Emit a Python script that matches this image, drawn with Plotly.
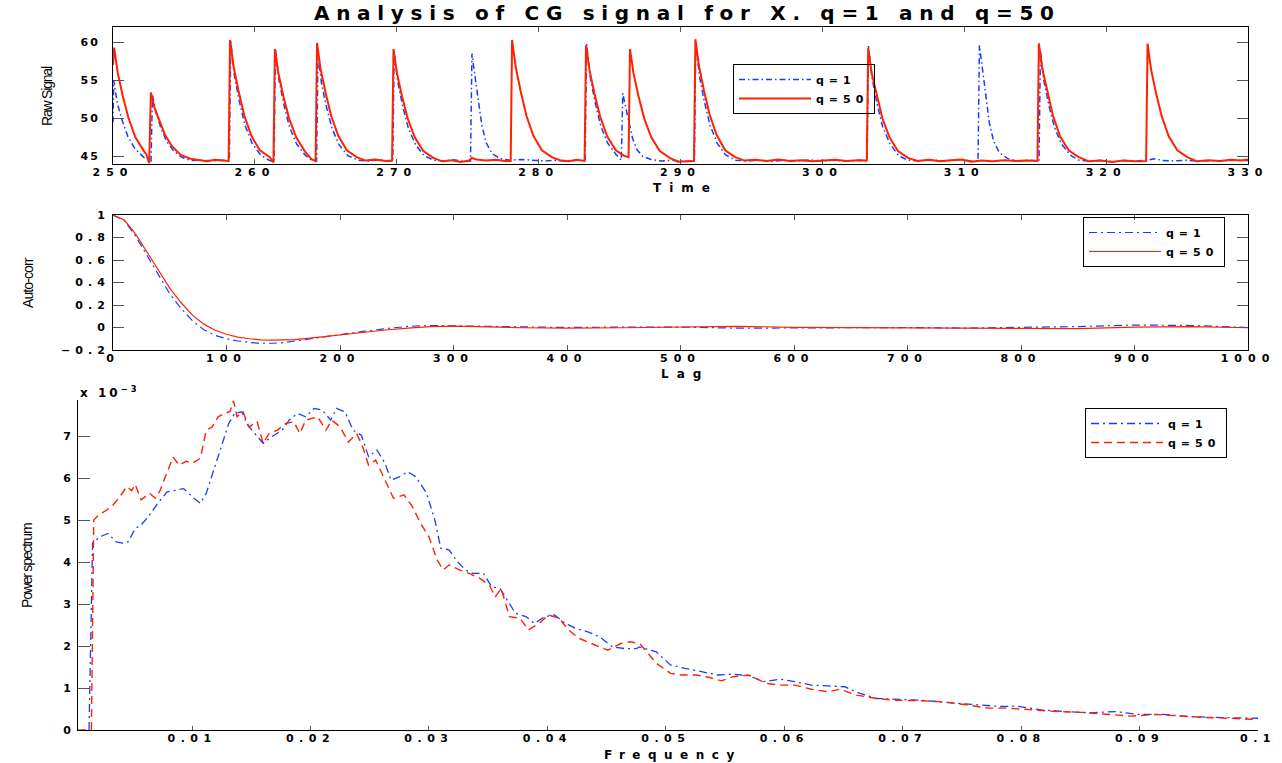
import plotly.graph_objects as go

W, H = 1282, 763
BLUE = "#1a3cff"
RED = "#ff2200"

# ---------------- Panel 1: raw signal (time, value) ----------------
raw_t_q1 = [250.0, 250.05, 250.3, 250.65, 251.05, 251.55, 252.15, 252.68, 252.78, 253.03, 253.38, 253.78,
            254.28, 254.88, 255.5, 256.3, 257.0, 257.7, 258.2, 258.3, 258.55, 258.9, 259.3, 259.8, 260.4,
            261.0, 261.35, 261.45, 261.7, 262.05, 262.45, 262.95, 263.55, 264.0, 264.35, 264.45, 264.7,
            265.05, 265.45, 265.95, 266.55, 267.3, 268.0, 268.8, 269.4, 269.72, 269.82, 270.07, 270.42,
            270.82, 271.32, 271.92, 272.6, 273.3, 274.0, 274.7, 275.2, 275.3, 275.5, 275.7, 276.0, 276.3,
            276.7, 277.3, 278.0, 278.8, 279.6, 280.4, 281.2, 282.0, 282.7, 283.28, 283.38, 283.63, 283.98,
            284.38, 284.88, 285.48, 285.83, 285.93, 286.13, 286.33, 286.63, 286.93, 287.33, 287.93, 288.6,
            289.4, 290.2, 290.98, 291.08, 291.33, 291.68, 292.08, 292.58, 293.18, 293.9, 294.6, 295.5,
            296.4, 297.3, 298.2, 299.1, 300.0, 300.9, 301.8, 302.6, 303.15, 303.25, 303.5, 303.85, 304.25,
            304.75, 305.35, 306.0, 306.8, 307.6, 308.4, 309.2, 309.9, 310.5, 310.97, 311.07, 311.27, 311.47,
            311.77, 312.07, 312.47, 313.07, 313.8, 314.5, 315.27, 315.37, 315.62, 315.97, 316.37, 316.87,
            317.47, 318.1, 318.9, 319.7, 320.5, 321.3, 322.1, 322.9, 323.4, 324.0, 324.8, 325.6, 326.5,
            327.4, 328.3, 329.2, 330.0]
raw_v_q1 = [49.5, 55.0, 52.0, 49.7, 47.6, 46.0, 44.9, 44.3, 53.1, 50.7, 48.75, 47.0,
            45.7, 44.85, 44.45, 44.5, 44.4, 44.5, 44.4, 60.1, 55.7, 52.25, 49.1, 46.75, 45.2,
            44.5, 44.3, 59.1, 55.0, 51.75, 48.8, 46.6, 45.15, 44.5, 44.4, 58.5, 54.55,
            51.45, 48.6, 46.5, 45.1, 44.5, 44.4, 44.55, 44.35, 44.4, 58.8, 54.8, 51.6,
            48.7, 46.55, 45.1, 44.5, 44.4, 44.55, 44.35, 44.4, 58.5, 55.7, 52.9, 49.05, 46.8,
            45.4, 44.7, 44.5, 44.6, 44.45, 44.4, 44.5, 44.35, 44.5, 44.4, 59.8, 55.5, 52.1,
            49.0, 46.7, 45.2, 44.5, 53.3, 51.5, 49.7, 47.3, 45.9, 45.0, 44.6, 44.4,
            44.5, 44.35, 44.4, 60.0, 55.6, 52.2, 49.1, 46.75, 45.2, 44.5, 44.4, 44.5,
            44.35, 44.5, 44.4, 44.55, 44.4, 44.5, 44.35, 44.5, 44.4, 59.5, 55.3, 51.95, 48.9,
            46.7, 45.15, 44.5, 44.4, 44.55, 44.4, 44.5, 44.6, 44.35, 44.4, 59.6, 56.6, 53.5,
            49.4, 47.0, 45.5, 44.7, 44.4, 44.5, 44.4, 58.9, 54.85, 51.65, 48.75, 46.6,
            45.15, 44.5, 44.35, 44.5, 44.3, 44.45, 44.4, 44.5, 44.7, 44.45, 44.4, 44.5, 44.35,
            44.45, 44.4, 44.5, 44.45]

raw_t_q50 = [250.0, 250.08, 250.33, 250.68, 251.08, 251.58, 252.18, 252.35, 252.55, 252.67, 252.92, 253.27,
             253.67, 254.17, 254.77, 255.47, 256.0, 256.6, 257.2, 257.8, 258.15, 258.25, 258.5, 258.85,
             259.25, 259.75, 260.35, 261.05, 261.31, 261.41, 261.66, 262.01, 262.41, 262.91, 263.51, 264.0,
             264.28, 264.38, 264.63, 264.98, 265.38, 265.88, 266.48, 267.18, 267.8, 268.5, 269.2, 269.67,
             269.77, 270.02, 270.37, 270.77, 271.27, 271.87, 272.57, 273.2, 273.9, 274.5, 275.1, 275.3,
             275.6, 276.3, 277.0, 277.6, 278.03, 278.13, 278.38, 278.73, 279.13, 279.63, 280.23, 280.93,
             281.5, 282.1, 282.7, 283.24, 283.34, 283.59, 283.94, 284.34, 284.84, 285.44, 286.0, 286.34,
             286.44, 286.69, 287.04, 287.44, 287.94, 288.54, 289.24, 289.8, 290.4, 290.95, 291.05, 291.3,
             291.65, 292.05, 292.55, 293.15, 293.85, 294.5, 295.3, 296.1, 296.9, 297.7, 298.5, 299.3,
             300.1, 300.9, 301.7, 302.5, 303.13, 303.23, 303.48, 303.83, 304.23, 304.73, 305.33, 306.03,
             306.7, 307.5, 308.3, 309.1, 309.8, 310.5, 311.2, 312.0, 312.8, 313.6, 314.4, 315.16, 315.26,
             315.51, 315.86, 316.26, 316.76, 317.36, 318.06, 318.8, 319.6, 320.4, 321.2, 322.0, 322.82,
             322.92, 323.17, 323.52, 323.92, 324.42, 325.02, 325.72, 326.4, 327.2, 328.0, 328.8, 329.5,
             330.0]
raw_v_q50 = [57.0, 59.3, 56.0, 53.0, 50.1, 47.5, 45.7, 45.3, 44.1, 53.4, 51.4, 49.6,
             47.8, 46.3, 45.2, 44.7, 44.5, 44.35, 44.55, 44.45, 44.4, 60.3, 56.8, 53.6,
             50.4, 47.7, 45.8, 44.9, 44.2, 59.1, 55.9, 52.9, 50.0, 47.5, 45.7, 44.6,
             44.4, 59.9, 56.5, 53.4, 50.3, 47.7, 45.8, 44.9, 44.45, 44.6, 44.4, 44.45,
             59.1, 55.9, 52.9, 50.0, 47.5, 45.7, 44.8, 44.35, 44.5, 44.25, 44.45, 44.8,
             44.6, 44.45, 44.55, 44.4, 44.4, 60.3, 56.8, 53.6, 50.4, 47.7, 45.8, 44.9,
             44.5, 44.35, 44.55, 44.4, 59.6, 56.3, 53.2, 50.2, 47.6, 45.8, 45.1, 44.9,
             59.1, 55.9, 52.9, 50.0, 47.5, 45.7, 44.8, 44.3, 44.35, 44.4, 60.4, 56.9,
             53.7, 50.5, 47.8, 45.8, 44.9, 44.45, 44.55, 44.4, 44.6, 44.4, 44.5, 44.35,
             44.45, 44.55, 44.4, 44.5, 44.45, 59.2, 55.9, 53.0, 50.0, 47.5, 45.7, 44.8,
             44.4, 44.55, 44.35, 44.5, 44.6, 44.3, 44.45, 44.35, 44.5, 44.4, 44.45, 44.4, 59.85,
             56.45, 53.4, 50.3, 47.6, 45.8, 44.9, 44.35, 44.45, 44.25, 44.45, 44.35, 44.4,
             59.8, 56.4, 53.3, 50.25, 47.6, 45.8, 44.9, 44.35, 44.5, 44.4, 44.55, 44.45,
             44.6]

raw_xticks = [250, 260, 270, 280, 290, 300, 310, 320, 330]
raw_yticks = [45, 50, 55, 60]

# ---------------- Panel 2: auto-correlation ----------------
lag = [0, 10, 20, 30, 40, 50, 60, 70, 80, 90, 100, 110, 120, 130, 140, 150, 160, 180, 200, 220, 240,
       260, 280, 300, 320, 340, 360, 380, 400, 450, 500, 550, 600, 650, 700, 750, 800, 850, 900, 950, 1000]
acf_q1 = [1.0, 0.95, 0.81, 0.64, 0.46, 0.30, 0.17, 0.06, -0.02, -0.07, -0.10, -0.12, -0.133, -0.14,
          -0.14, -0.135, -0.12, -0.09, -0.06, -0.035, -0.01, 0.01, 0.018, 0.015, 0.01, 0.005, 0.0,
          -0.003, 0.0, 0.004, 0.004, -0.006, -0.004, 0.004, 0.0, -0.005, 0.0, 0.008, 0.022, 0.018, 0.0]
acf_q50 = [1.0, 0.955, 0.83, 0.67, 0.50, 0.35, 0.22, 0.11, 0.03, -0.025, -0.06, -0.085, -0.10, -0.11,
           -0.113, -0.112, -0.108, -0.088, -0.065, -0.042, -0.022, -0.006, 0.007, 0.012, 0.01, 0.004,
           -0.002, -0.006, -0.006, -0.002, 0.006, 0.01, 0.002, 0.0, -0.004, -0.008, -0.004, -0.01,
           0.004, 0.008, -0.002]
lag_ticks = [0, 100, 200, 300, 400, 500, 600, 700, 800, 900, 1000]
acf_ticks = [-0.2, 0, 0.2, 0.4, 0.6, 0.8, 1]
acf_ticklabels = ["\u22120.2", "0", "0.2", "0.4", "0.6", "0.8", "1"]

# ---------------- Panel 3: power spectrum (units of 1e-3) ----------------
freq_q1 = [0.0013, 0.0016, 0.0022, 0.0029, 0.0036, 0.0041, 0.0046, 0.0052, 0.0057, 0.0064, 0.0071, 0.0079,
           0.0086, 0.0093, 0.0100, 0.0107, 0.0112, 0.0119, 0.0126, 0.0131, 0.0136, 0.0142, 0.0147, 0.0154,
           0.0160, 0.0167, 0.0176, 0.0182, 0.0189, 0.0196, 0.0203, 0.0210, 0.0217, 0.0222, 0.0229, 0.0236,
           0.0243, 0.0249, 0.0256, 0.0263, 0.0268, 0.0275, 0.0282, 0.0289, 0.0298, 0.0305, 0.0310, 0.0317,
           0.0324, 0.0331, 0.0337, 0.0346, 0.0353, 0.0360, 0.0366, 0.0373, 0.0382, 0.0389, 0.0398, 0.0406,
           0.0415, 0.0424, 0.0434, 0.0444, 0.0455, 0.0465, 0.0475, 0.0478, 0.0492, 0.0504, 0.0516, 0.0530,
           0.0544, 0.0556, 0.0571, 0.0582, 0.0597, 0.0609, 0.0623, 0.0637, 0.0651, 0.0664, 0.0678, 0.0699,
           0.0720, 0.0740, 0.0761, 0.0782, 0.0796, 0.0817, 0.0837, 0.0858, 0.0879, 0.0899, 0.0920, 0.0941,
           0.0961, 0.0975, 0.1000]
psd_q1 = [0.0, 4.45, 4.6, 4.68, 4.48, 4.45, 4.48, 4.8, 4.88, 5.12, 5.4, 5.67,
          5.71, 5.75, 5.56, 5.4, 5.64, 6.27, 6.9, 7.3, 7.54, 7.58, 7.26, 7.02,
          6.83, 6.98, 7.14, 7.38, 7.54, 7.46, 7.66, 7.62, 7.38, 7.66, 7.58, 7.14,
          7.02, 6.51, 6.67, 6.35, 5.95, 6.03, 6.15, 6.03, 5.64, 5.0, 4.33, 4.29,
          4.01, 3.81, 3.73, 3.73, 3.41, 3.37, 3.1, 2.78, 2.7, 2.54, 2.7, 2.74,
          2.54, 2.42, 2.34, 2.22, 1.98, 1.94, 1.94, 1.98, 1.86, 1.55, 1.47, 1.39,
          1.31, 1.33, 1.29, 1.15, 1.21, 1.15, 1.07, 1.05, 1.03, 0.87, 0.75, 0.73,
          0.70, 0.65, 0.60, 0.56, 0.57, 0.48, 0.44, 0.41, 0.44, 0.37, 0.37, 0.32,
          0.30, 0.29, 0.28]
freq_q50 = [0.0004, 0.0015, 0.0017, 0.0021, 0.0028, 0.0033, 0.0038, 0.0045, 0.0049, 0.0052, 0.0057, 0.0064,
            0.0069, 0.0073, 0.0077, 0.0084, 0.0089, 0.0095, 0.0100, 0.0107, 0.0112, 0.0117, 0.0122, 0.0127,
            0.0132, 0.0135, 0.0138, 0.0143, 0.0148, 0.0155, 0.0160, 0.0165, 0.0172, 0.0179, 0.0186, 0.0191,
            0.0196, 0.0201, 0.0206, 0.0213, 0.0218, 0.0225, 0.0232, 0.0239, 0.0244, 0.0249, 0.0255, 0.0263,
            0.0270, 0.0279, 0.0286, 0.0293, 0.0300, 0.0307, 0.0312, 0.0317, 0.0326, 0.0334, 0.0343, 0.0351,
            0.0356, 0.0361, 0.0368, 0.0377, 0.0384, 0.0393, 0.0401, 0.0410, 0.0418, 0.0427, 0.0438, 0.0451,
            0.0462, 0.0470, 0.0478, 0.0492, 0.0504, 0.0513, 0.0526, 0.0537, 0.0547, 0.0557, 0.0570, 0.0585,
            0.0597, 0.0609, 0.0623, 0.0637, 0.0647, 0.0661, 0.0678, 0.0692, 0.0713, 0.0734, 0.0754, 0.0772,
            0.0789, 0.0810, 0.0830, 0.0851, 0.0872, 0.0893, 0.0913, 0.0934, 0.0955, 0.0975, 0.1000]
psd_q50 = [0.0, 0.0, 5.0, 5.12, 5.24, 5.35, 5.52, 5.8, 5.7, 5.85, 5.48, 5.64,
           5.52, 5.7, 6.0, 6.5, 6.31, 6.4, 6.35, 6.47, 7.14, 7.22, 7.46, 7.54,
           7.58, 7.84, 7.46, 7.58, 7.22, 7.34, 6.83, 7.06, 7.14, 7.3, 7.34, 7.06,
           7.38, 7.42, 7.46, 7.14, 7.38, 7.22, 6.86, 7.06, 6.75, 6.31, 6.43, 5.95,
           5.52, 5.6, 5.32, 4.92, 4.6, 4.05, 3.81, 3.93, 3.81, 3.73, 3.61, 3.45,
           3.17, 3.37, 2.7, 2.66, 2.38, 2.54, 2.74, 2.66, 2.38, 2.18, 2.06, 1.9,
           2.06, 2.1, 2.06, 1.59, 1.35, 1.31, 1.31, 1.25, 1.17, 1.27, 1.31, 1.11,
           1.07, 1.07, 0.97, 0.91, 0.97, 0.83, 0.75, 0.71, 0.70, 0.67, 0.60, 0.52,
           0.52, 0.48, 0.44, 0.42, 0.38, 0.33, 0.37, 0.33, 0.30, 0.28, 0.25]
freq_ticks = [0.01, 0.02, 0.03, 0.04, 0.05, 0.06, 0.07, 0.08, 0.09, 0.1]
psd_ticks = [0, 1, 2, 3, 4, 5, 6, 7]

series_names = ["q=1", "q=50"]


# ---------------- helpers ----------------
def spaced(s, ls):
    return '<span style="letter-spacing:%spx">%s</span>' % (ls, s)


def fmt(v):
    return ("%g" % v)


TF = dict(family="DejaVu Sans", size=11, color="black", weight="bold")
LEGF = dict(family="DejaVu Sans", size=11, color="black", weight="bold")

fig = go.Figure()

# panel 1
fig.add_trace(go.Scatter(x=raw_t_q1, y=raw_v_q1, mode="lines", name=spaced(series_names[0], 5),
                         line=dict(color=BLUE, width=1.5, dash="6px,3px,1.5px,3px"),
                         xaxis="x", yaxis="y", legend="legend"))
fig.add_trace(go.Scatter(x=raw_t_q50, y=raw_v_q50, mode="lines", name=spaced(series_names[1], 5),
                         line=dict(color=RED, width=2),
                         xaxis="x", yaxis="y", legend="legend"))
# panel 2
fig.add_trace(go.Scatter(x=lag, y=acf_q1, mode="lines", name=spaced(series_names[0], 5),
                         line=dict(color=BLUE, width=1.2, dash="8px,4px,2px,4px"),
                         xaxis="x2", yaxis="y2", legend="legend2"))
fig.add_trace(go.Scatter(x=lag, y=acf_q50, mode="lines", name=spaced(series_names[1], 5),
                         line=dict(color=RED, width=1.2),
                         xaxis="x2", yaxis="y2", legend="legend2"))
# panel 3
fig.add_trace(go.Scatter(x=freq_q1, y=psd_q1, mode="lines", name=spaced(series_names[0], 5),
                         line=dict(color=BLUE, width=1.3, dash="8px,4px,2px,4px"),
                         xaxis="x3", yaxis="y3", legend="legend3"))
fig.add_trace(go.Scatter(x=freq_q50, y=psd_q50, mode="lines", name=spaced(series_names[1], 5),
                         line=dict(color=RED, width=1.4, dash="8px,5px"),
                         xaxis="x3", yaxis="y3", legend="legend3"))


def axis(domain, rng, anchor, tickvals, ticktext, ticklen, mirror, ls, standoff=0):
    return dict(domain=domain, range=rng, anchor=anchor, tickmode="array", tickvals=tickvals,
                ticktext=[spaced(t, ls) for t in ticktext], ticks="inside", ticklen=ticklen,
                tickcolor="#555", tickwidth=1, showline=True, linecolor="black", linewidth=1,
                mirror=mirror, showgrid=False, zeroline=False, tickfont=TF,
                ticklabelstandoff=standoff, automargin=False, fixedrange=True)


legend_common = dict(xanchor="left", yanchor="top", bordercolor="black", borderwidth=1,
                     bgcolor="rgba(255,255,255,0)", font=LEGF, itemwidth=72, tracegroupgap=0)

fig.update_layout(
    width=W, height=H, autosize=False,
    margin=dict(l=0, r=0, t=0, b=0, pad=0),
    paper_bgcolor="white", plot_bgcolor="white",
    showlegend=True,
    xaxis=axis([113 / W, 1248 / W], [250, 330], "y", raw_xticks, [fmt(v) for v in raw_xticks], 5, "ticks", 6, -2),
    yaxis=axis([1 - 164 / H, 1 - 27 / H], [44, 62], "x", raw_yticks, [fmt(v) for v in raw_yticks], 11, "ticks", 2, 10),
    xaxis2=axis([113 / W, 1248 / W], [0, 1000], "y2", lag_ticks, [fmt(v) for v in lag_ticks], 5, "ticks", 6, -2),
    yaxis2=axis([1 - 350 / H, 1 - 215 / H], [-0.2, 1], "x2", acf_ticks, acf_ticklabels, 11, "ticks", 5, 0),
    xaxis3=axis([78 / W, 1258 / W], [0.00037, 0.1], "y3", freq_ticks, [fmt(v) for v in freq_ticks], 4, False, 5.5, -2),
    yaxis3=axis([1 - 730 / H, 1 - 400 / H], [0, 7.86], "x3", psd_ticks, [fmt(v) for v in psd_ticks], 12, False, 0, 4),
    legend=dict(x=733 / W, y=1 - 64 / H, **legend_common),
    legend2=dict(x=1083 / W, y=1 - 217 / H, **legend_common),
    legend3=dict(x=1085 / W, y=1 - 408 / H, **legend_common),
)

TITLEF = dict(family="DejaVu Sans", size=20, color="black", weight="bold")
AXF = dict(family="DejaVu Sans", size=12, color="black", weight="bold")
YTF = dict(family="Liberation Sans", size=14, color="black")

ann = [
    dict(text=spaced("Analysis of CG signal for X. q=1 and q=50", 6.7), x=687 / W, y=1 - 13 / H, font=TITLEF),
    dict(text=spaced("Time", 8), x=685 / W, y=1 - 188 / H, font=AXF),
    dict(text=spaced("Lag", 8), x=685 / W, y=1 - 374 / H, font=AXF),
    dict(text=spaced("Frequency", 7.5), x=673 / W, y=1 - 755 / H, font=AXF),
    dict(text=spaced("Raw Signal", -1.2), x=47 / W, y=1 - 96 / H, font=YTF, textangle=-90),
    dict(text=spaced("Auto-corr", -0.9), x=28 / W, y=1 - 283 / H, font=YTF, textangle=-90),
    dict(text=spaced("Power spectrum", -1.2), x=27 / W, y=1 - 566 / H, font=YTF, textangle=-90),
    dict(text=spaced("x 10<sup>\u22123</sup>", 3), x=78 / W, y=1 - 392 / H, xanchor="left",
         font=dict(family="DejaVu Sans", size=12, color="black", weight="bold")),
]
for a in ann:
    a.setdefault("xanchor", "center")
    a.setdefault("yanchor", "middle")
    a.update(xref="paper", yref="paper", showarrow=False)
fig.update_layout(annotations=ann)

fig.write_html("out.html")
